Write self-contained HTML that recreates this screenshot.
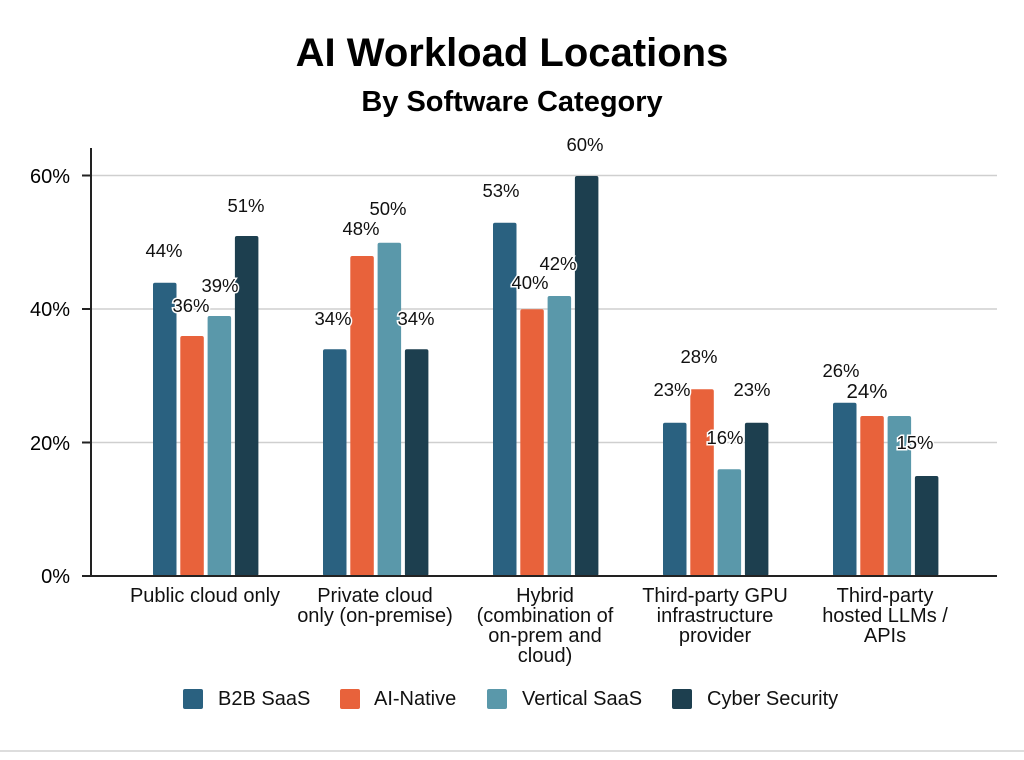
<!DOCTYPE html>
<html><head><style>
body{margin:0;background:#fff;}
svg text{font-family:"Liberation Sans",sans-serif;}
</style></head><body>
<svg width="1024" height="755" xmlns="http://www.w3.org/2000/svg">
<rect width="1024" height="755" fill="#fff"/>
<text x="512" y="66" text-anchor="middle" font-size="40" font-weight="bold" fill="#000">AI Workload Locations</text>
<text x="512" y="111" text-anchor="middle" font-size="29" font-weight="bold" fill="#000">By Software Category</text>
<g stroke="#cfcfcf" stroke-width="1.5">
<line x1="91" y1="175.5" x2="997" y2="175.5"/>
<line x1="91" y1="309" x2="997" y2="309"/>
<line x1="91" y1="442.5" x2="997" y2="442.5"/>
</g>
<g>
<rect x="153" y="282.7" width="23.5" height="293.3" rx="2" fill="#2a6180"/>
<rect x="180.3" y="336" width="23.5" height="240" rx="2" fill="#e8623b"/>
<rect x="207.6" y="316" width="23.5" height="260" rx="2" fill="#5a98aa"/>
<rect x="234.9" y="236" width="23.5" height="340" rx="2" fill="#1d3f4f"/>
<rect x="323" y="349.3" width="23.5" height="226.7" rx="2" fill="#2a6180"/>
<rect x="350.3" y="256" width="23.5" height="320" rx="2" fill="#e8623b"/>
<rect x="377.6" y="242.7" width="23.5" height="333.3" rx="2" fill="#5a98aa"/>
<rect x="404.9" y="349.3" width="23.5" height="226.7" rx="2" fill="#1d3f4f"/>
<rect x="493" y="222.7" width="23.5" height="353.3" rx="2" fill="#2a6180"/>
<rect x="520.3" y="309.3" width="23.5" height="266.7" rx="2" fill="#e8623b"/>
<rect x="547.6" y="296" width="23.5" height="280" rx="2" fill="#5a98aa"/>
<rect x="574.9" y="176" width="23.5" height="400" rx="2" fill="#1d3f4f"/>
<rect x="663" y="422.7" width="23.5" height="153.3" rx="2" fill="#2a6180"/>
<rect x="690.3" y="389.3" width="23.5" height="186.7" rx="2" fill="#e8623b"/>
<rect x="717.6" y="469.3" width="23.5" height="106.7" rx="2" fill="#5a98aa"/>
<rect x="744.9" y="422.7" width="23.5" height="153.3" rx="2" fill="#1d3f4f"/>
<rect x="833" y="402.7" width="23.5" height="173.3" rx="2" fill="#2a6180"/>
<rect x="860.3" y="416" width="23.5" height="160" rx="2" fill="#e8623b"/>
<rect x="887.6" y="416" width="23.5" height="160" rx="2" fill="#5a98aa"/>
<rect x="914.9" y="476" width="23.5" height="100" rx="2" fill="#1d3f4f"/>
</g>
<g stroke="#222" stroke-width="2">
<line x1="91" y1="148" x2="91" y2="576"/>
<line x1="82" y1="576" x2="997" y2="576"/>
<line x1="82" y1="175.5" x2="91" y2="175.5"/>
<line x1="82" y1="309" x2="91" y2="309"/>
<line x1="82" y1="442.5" x2="91" y2="442.5"/>
</g>
<g font-size="20" text-anchor="end" fill="#000">
<text x="70" y="183">60%</text><text x="70" y="316">40%</text><text x="70" y="450">20%</text><text x="70" y="583">0%</text>
</g>
<g font-size="18.5" text-anchor="middle" fill="#111" stroke="#fff" stroke-width="3" paint-order="stroke">
<text x="164" y="257">44%</text><text x="191" y="312">36%</text><text x="220" y="292">39%</text><text x="246" y="212">51%</text>
<text x="333" y="325">34%</text><text x="361" y="235">48%</text><text x="388" y="215">50%</text><text x="416" y="325">34%</text>
<text x="501" y="197">53%</text><text x="530" y="289">40%</text><text x="558" y="270">42%</text><text x="585" y="151">60%</text>
<text x="672" y="396">23%</text><text x="699" y="363">28%</text><text x="725" y="444">16%</text><text x="752" y="396">23%</text>
<text x="841" y="377">26%</text><text x="867" y="398" font-size="20.5">24%</text><text x="915" y="449">15%</text>
</g>
<g font-size="20" text-anchor="middle" fill="#111">
<text x="205" y="602">Public cloud only</text>
<text x="375" y="602">Private cloud</text><text x="375" y="622">only (on-premise)</text>
<text x="545" y="602">Hybrid</text><text x="545" y="622">(combination of</text><text x="545" y="642">on-prem and</text><text x="545" y="662">cloud)</text>
<text x="715" y="602">Third-party GPU</text><text x="715" y="622">infrastructure</text><text x="715" y="642">provider</text>
<text x="885" y="602">Third-party</text><text x="885" y="622">hosted LLMs /</text><text x="885" y="642">APIs</text>
</g>
<g font-size="20" fill="#111">
<rect x="183" y="689" width="20" height="20" rx="2" fill="#2a6180"/><text x="218" y="705">B2B SaaS</text>
<rect x="340" y="689" width="20" height="20" rx="2" fill="#e8623b"/><text x="374" y="705">AI-Native</text>
<rect x="487" y="689" width="20" height="20" rx="2" fill="#5a98aa"/><text x="522" y="705">Vertical SaaS</text>
<rect x="672" y="689" width="20" height="20" rx="2" fill="#1d3f4f"/><text x="707" y="705">Cyber Security</text>
</g>
<line x1="0" y1="751" x2="1024" y2="751" stroke="#ddd" stroke-width="2"/>
</svg>
</body></html>
